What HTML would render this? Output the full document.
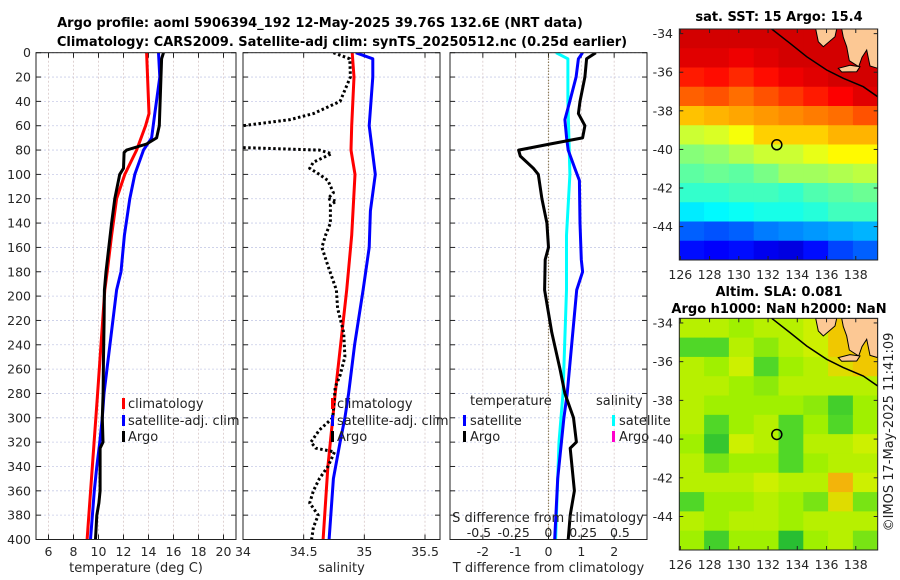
<!DOCTYPE html>
<html><head><meta charset="utf-8"><style>
html,body{margin:0;padding:0;background:#fff}
svg{display:block;font-family:"DejaVu Sans","Liberation Sans",sans-serif}
</style></head><body>
<svg id="fig" width="900" height="580" viewBox="0 0 900 580" xmlns="http://www.w3.org/2000/svg">
<text x="320" y="27" text-anchor="middle" font-size="13" font-weight="bold">Argo profile: aoml 5906394_192 12-May-2025 39.76S 132.6E (NRT data)</text>
<text x="342" y="46" text-anchor="middle" font-size="13" font-weight="bold">Climatology: CARS2009. Satellite-adj clim: synTS_20250512.nc (0.25d earlier)</text>
<text x="779" y="21" text-anchor="middle" font-size="13" font-weight="bold">sat. SST: 15 Argo: 15.4</text>
<text x="779" y="296" text-anchor="middle" font-size="13" font-weight="bold">Altim. SLA: 0.081</text>
<text x="779" y="313" text-anchor="middle" font-size="13" font-weight="bold">Argo h1000: NaN h2000: NaN</text>
<text transform="translate(893,432) rotate(-90)" text-anchor="middle" font-size="13" fill="#222">©IMOS 17-May-2025 11:41:09</text>
<g id="root"></g>
</svg>
<script>
// ---------- profile data (depth in m) ----------
const tClimDepth=[0,50,60,80,100,120,150,180,195,280,400];
const tClimVal=[13.85,14.04,13.77,13.05,12.1,11.45,11.05,10.7,10.5,9.93,9.09];
const tSatDepth=[0,20,50,70,80,100,120,150,180,195,280,300,320,340,360,400];
const tSatVal=[14.8,14.9,14.5,14.25,13.6,12.9,12.5,12.07,11.8,11.45,10.44,10.3,10.1,9.86,9.66,9.36];
const tArgoDepth=[0,5,60,70,75,80,82,95,100,120,140,180,195,220,250,280,300,320,325,340,360,370,380,400];
const tArgoVal=[15.2,15.05,14.86,14.65,13.85,12.25,12.05,12.0,11.7,11.3,11.05,10.6,10.47,10.45,10.4,10.37,10.3,10.36,10.13,10.13,10.13,10.03,9.86,9.76];
const sClimDepth=[0,20,60,80,100,150,195,280,300,340,400];
const sClimVal=[34.90,34.915,34.896,34.89,34.923,34.896,34.855,34.76,34.74,34.70,34.66];
const sSatDepth=[0,5,20,60,100,130,160,195,240,280,300,320,350,400];
const sSatVal=[34.93,35.07,35.07,35.04,35.09,35.05,35.04,34.99,34.92,34.87,34.84,34.80,34.745,34.71];
const sArgoDepth=[0,5,20,40,50,55,60,62,76,78,80,83,90,95,100,105,115,120,122,125,140,150,160,175,195,210,230,250,265,275,300,310,320,325,328,340,350,360,370,380,390,400];
const sArgoVal=[34.745,34.88,34.885,34.80,34.58,34.39,34.0,33.9,33.9,34.0,34.63,34.73,34.58,34.55,34.63,34.70,34.745,34.70,34.77,34.72,34.72,34.68,34.65,34.70,34.77,34.78,34.83,34.84,34.80,34.76,34.74,34.63,34.56,34.60,34.755,34.70,34.63,34.58,34.55,34.62,34.58,34.565];
const dTArgoDepth=[0,5,20,40,50,60,70,75,80,85,95,100,120,140,160,170,195,230,260,280,300,320,325,360,380,400];
const dTArgoVal=[1.44,1.16,1.11,0.96,0.91,1.11,1.04,0.05,-0.91,-0.86,-0.46,-0.31,-0.2,-0.05,0,-0.1,-0.12,0.1,0.35,0.5,0.76,0.85,0.66,0.79,0.66,0.6];
const dTSatDepth=[0,5,20,40,55,70,80,95,105,140,170,180,195,280,300,350,400];
const dTSatVal=[1.04,0.91,0.84,0.65,0.5,0.55,0.6,0.8,0.94,0.96,1.0,1.04,0.86,0.57,0.47,0.28,0.19];
const dSSatDepth=[0,5,40,100,150,195,280,320,400];
const dSSatVal=[0.055,0.14,0.14,0.155,0.13,0.13,0.105,0.076,0.052];
const depthTicks=[0,20,40,60,80,100,120,140,160,180,200,220,240,260,280,300,320,340,360,380,400];
const tTicks=[6,8,10,12,14,16,18,20];
const sTicks=[34,34.5,35,35.5];
const sTickLabels=["34","34.5","35","35.5"];
const dTTicks=[-2,-1,0,1,2];
const dSTicks=[-0.5,-0.25,0,0.25,0.5];
const dSTickLabels=["-0.5","-0.25","0","0.25","0.5"];
// ---------- map data: 12 rows (lat -34 .. -45.7) x 8 cols (lon 126 .. 139.5) ----------
const sstGrid=[
[17.7,17.7,17.7,17.7,17.7,17.7,17.7,17.7],
[17.6,17.6,17.5,17.6,17.7,17.7,17.7,17.7],
[17.2,17.3,17.1,17.3,17.5,17.6,17.7,17.7],
[16.7,16.8,16.6,16.8,17.0,17.2,17.4,17.6],
[16.0,16.1,16.2,16.3,16.4,16.5,16.6,16.8],
[15.2,15.3,15.5,15.9,15.9,15.9,16.1,16.1],
[14.7,14.8,15.0,15.2,15.2,15.4,15.6,15.6],
[14.4,14.5,14.4,14.6,14.9,14.9,15.0,15.1],
[14.1,14.1,14.2,14.2,14.1,14.3,14.4,14.5],
[13.6,13.7,13.8,13.9,13.9,14.0,14.2,14.2],
[12.6,12.5,12.6,12.8,12.9,13.0,13.1,13.2],
[12.0,11.9,12.0,11.8,11.7,12.0,12.4,12.6]];
const slaGrid=[
[0.05,0.05,0.04,0.05,0.05,0.06,0.08,0.08],
[0.0,0.0,0.05,0.03,0.05,0.06,0.08,0.08],
[0.05,0.04,0.06,0.0,0.04,0.05,0.07,0.08],
[0.05,0.05,0.04,0.03,0.05,0.05,0.05,0.05],
[0.05,0.04,0.04,0.04,0.04,0.03,-0.01,0.04],
[0.05,0.0,0.04,0.05,0.0,0.04,0.0,0.04],
[0.04,-0.02,0.06,0.05,0.0,0.05,0.05,0.06],
[0.05,0.02,0.04,0.04,0.0,0.04,0.05,0.05],
[0.05,0.05,0.05,0.06,0.05,0.05,0.09,0.06],
[0.0,0.04,0.04,0.05,0.04,0.02,0.07,0.02],
[0.05,0.04,0.05,0.05,0.04,0.05,0.05,0.05],
[0.04,-0.01,0.04,0.04,-0.03,0.04,0.05,0.02]];
const lonTicks=[126,128,130,132,134,136,138];
const latTicks=[-34,-36,-38,-40,-42,-44];
const argoLon=132.6, argoLat=-39.76;

const NS="http://www.w3.org/2000/svg";
const root=document.getElementById('root');
function mk(tag,attrs,parent){const e=document.createElementNS(NS,tag);for(const k in attrs)e.setAttribute(k,attrs[k]);(parent||root).appendChild(e);return e;}
const Y0=52.7,Y1=539.5;
const yD=d=>Y0+(d/400)*(Y1-Y0);
function lin(d0,d1,r0,r1){return v=>r0+(v-d0)/(d1-d0)*(r1-r0);}
const xT=lin(5,21,36,236);
const xS=lin(34,35.5,243,425);
const xdT=lin(-3,3,450,647);
const xdS=v=>548.4+v*139;

function panel(name,x0,x1,xTicksV,xf,labels,xlabel){
  const g=mk('g',{});
  
  
  const cp=mk('clipPath',{id:'clip-'+name},g);
  mk('rect',{x:x0,y:Y0,width:x1-x0,height:Y1-Y0},cp);
  depthTicks.forEach(d=>{const l=mk('line',{x1:x0,x2:x1,y1:yD(d),y2:yD(d),stroke:'#c8cce8','stroke-width':0.8,'stroke-dasharray':'2,2'},g);
    
    mk('line',{x1:x0,x2:x0+5,y1:yD(d),y2:yD(d),stroke:'#222'},g);mk('line',{x1:x1-5,x2:x1,y1:yD(d),y2:yD(d),stroke:'#222'},g);});
  xTicksV.forEach((v,i)=>{const x=xf(v);
    const l=mk('line',{x1:x,x2:x,y1:Y0,y2:Y1,stroke:'#d8c8c8','stroke-width':0.8,'stroke-dasharray':'2,2'},g);
    
    mk('line',{x1:x,x2:x,y1:Y1-5,y2:Y1,stroke:'#222'},g);mk('line',{x1:x,x2:x,y1:Y0,y2:Y0+5,stroke:'#222'},g);
    const t=mk('text',{x:x,y:556,'text-anchor':'middle','font-size':12.5,fill:'#262626'},g);t.textContent=labels?labels[i]:String(v);
    });
  const xl=mk('text',{x:(x0+x1)/2,y:572,'text-anchor':'middle','font-size':13,fill:'#262626'},g);xl.textContent=xlabel;
  
  return g;
}
function frame(g,x0,x1){mk('rect',{x:x0,y:Y0,width:x1-x0,height:Y1-Y0,fill:'none',stroke:'#222','stroke-width':1},g);}
function line(g,name,clip,depths,vals,xf,color,dash){
  const pts=depths.map((d,i)=>xf(vals[i]).toFixed(1)+','+yD(d).toFixed(1)).join(' ');
  const p=mk('polyline',{points:pts,fill:'none',stroke:color,'stroke-width':3,'stroke-linejoin':'round','clip-path':'url(#clip-'+clip+')'},g);
  if(dash)p.setAttribute('stroke-dasharray',dash);
  
}
function txt(g,x,y,s,name,opt){const t=mk('text',Object.assign({x:x,y:y,'font-size':13,fill:'#222'},opt||{}),g);t.textContent=s;return t;}
function mark(g,x,y,c,name){const r=mk('rect',{x:x,y:y-6,width:3,height:11,fill:c},g);}

depthTicks.forEach(d=>{txt(root,31,yD(d)+4.5,String(d),'depth-tick-label',{'text-anchor':'end','font-size':12.5,fill:'#262626'});});

const g1=panel('temperature-panel',36,236,tTicks,xT,null,'temperature (deg C)');
line(g1,'temp-climatology-line','temperature-panel',tClimDepth,tClimVal,xT,'#ff0000');
line(g1,'temp-satellite-line','temperature-panel',tSatDepth,tSatVal,xT,'#0000ff');
line(g1,'temp-argo-line','temperature-panel',tArgoDepth,tArgoVal,xT,'#000');
frame(g1,36,236);
mark(g1,122,404,'#f00','legend-climatology-marker');txt(g1,128,408,'climatology','legend-climatology');
mark(g1,122,421,'#00f','legend-satellite-marker');txt(g1,128,425,'satellite-adj. clim','legend-satellite');
mark(g1,122,437,'#000','legend-argo-marker');txt(g1,128,441,'Argo','legend-argo');

const g2=panel('salinity-panel',243,440,sTicks,xS,sTickLabels,'salinity');
line(g2,'sal-climatology-line','salinity-panel',sClimDepth,sClimVal,xS,'#ff0000');
line(g2,'sal-satellite-line','salinity-panel',sSatDepth,sSatVal,xS,'#0000ff');
line(g2,'sal-argo-line','salinity-panel',sArgoDepth,sArgoVal,xS,'#000','2.5,2.5');
frame(g2,243,440);
mark(g2,331,404,'#f00','legend-climatology-marker');txt(g2,337,408,'climatology','legend-climatology');
mark(g2,331,421,'#00f','legend-satellite-marker');txt(g2,337,425,'satellite-adj. clim','legend-satellite');
mark(g2,331,437,'#000','legend-argo-marker');txt(g2,337,441,'Argo','legend-argo');

const g3=panel('difference-panel',450,647,dTTicks,xdT,null,'T difference from climatology');
const z=mk('line',{x1:xdT(0),x2:xdT(0),y1:Y0,y2:Y1,stroke:'#6b5a2a','stroke-width':1.2,'stroke-dasharray':'1,2'},g3);

line(g3,'dS-satellite-line','difference-panel',dSSatDepth,dSSatVal,xdS,'#00ffff');
line(g3,'dT-satellite-line','difference-panel',dTSatDepth,dTSatVal,xdT,'#0000ff');
line(g3,'dT-argo-line','difference-panel',dTArgoDepth,dTArgoVal,xdT,'#000');
frame(g3,450,647);
txt(g3,470,405,'temperature','legend-temperature-heading');
mark(g3,463,421,'#00f','legend-t-satellite-marker');txt(g3,470,425,'satellite','legend-t-satellite');
mark(g3,463,437,'#000','legend-t-argo-marker');txt(g3,470,441,'Argo','legend-t-argo');
txt(g3,596,405,'salinity','legend-salinity-heading');
mark(g3,612,421,'#0ff','legend-s-satellite-marker');txt(g3,619,425,'satellite','legend-s-satellite');
mark(g3,612,437,'#f0c','legend-s-argo-marker');txt(g3,619,441,'Argo','legend-s-argo');
txt(g3,548,522,'S difference from climatology','s-axis-title',{'text-anchor':'middle'});
dSTicks.forEach((v,i)=>txt(g3,xdS(v)+(i==4?2:0),537,dSTickLabels[i],'s-tick-label',{'text-anchor':'middle','font-size':12.5}));

// ---------- maps ----------
const MX0=679.3,MX1=877.7,LON0=125.93,LON1=139.5,LAT0=-33.76,LAT1=-45.73;
function jet(t){t=Math.max(0,Math.min(1,t));const c=v=>Math.round(255*Math.max(0,Math.min(1,v)));
  return 'rgb('+c(1.5-Math.abs(4*t-3))+','+c(1.5-Math.abs(4*t-2))+','+c(1.5-Math.abs(4*t-1))+')';}
const slaStops=[[-0.03,[40,190,50]],[0.0,[80,215,40]],[0.04,[160,240,0]],[0.06,[205,240,0]],[0.08,[240,200,0]],[0.1,[245,160,20]]];
function slaColor(v){
  if(v<=slaStops[0][0])return 'rgb('+slaStops[0][1].join(',')+')';
  for(let i=1;i<slaStops.length;i++){if(v<=slaStops[i][0]){const a=slaStops[i-1],b=slaStops[i],f=(v-a[0])/(b[0]-a[0]);
    return 'rgb('+a[1].map((c,k)=>Math.round(c+(b[1][k]-c)*f)).join(',')+')';}}
  return 'rgb('+slaStops[slaStops.length-1][1].join(',')+')';}
const landA=[[497,87],[560,87],[555,110],[520,140],[505,125]];
const landB=[[575,87],[683,87],[683,205],[660,198],[650,150],[636,172],[626,200],[598,182],[590,140],[580,112]];
const landK=[[565,205],[600,196],[630,200],[620,215],[575,216]];
const coast=[[365,87],[420,130],[470,170],[530,210],[580,235],[640,260],[683,290]];
function drawMap(name,MY0,MY1,grid,colorOf,landColor,labelY){
  const g=mk('g',{});
  const cp=mk('clipPath',{id:'clip-'+name},g);mk('rect',{x:MX0,y:MY0,width:MX1-MX0,height:MY1-MY0},cp);
  const gx=lin(LON0,LON1,MX0,MX1), gy=lin(LAT0,LAT1,MY0,MY1);
  const gc=mk('g',{'clip-path':'url(#clip-'+name+')'},g);
  const nr=grid.length,nc=grid[0].length,cw=(MX1-MX0)/nc,ch=(MY1-MY0)/nr;
  grid.forEach((row,r)=>row.forEach((v,c)=>{const e=mk('rect',{x:MX0+c*cw,y:MY0+r*ch,width:cw+0.6,height:ch+0.6,fill:colorOf(v)},gc);
    }));
  const P=pts=>pts.map(p=>(p[0]/3+650).toFixed(1)+','+(p[1]/3-29+MY0).toFixed(1)).join(' ');
  [landA,landB,landK].forEach(l=>{const e=mk('polygon',{points:P(l),fill:landColor,stroke:'#000','stroke-width':1},gc);});
  const cl=mk('polyline',{points:P(coast),fill:'none',stroke:'#000','stroke-width':1.5},gc);
  const ac=mk('circle',{cx:gx(argoLon),cy:gy(argoLat),r:5,fill:'none',stroke:'#000','stroke-width':1.5},g);
  mk('rect',{x:MX0,y:MY0,width:MX1-MX0,height:MY1-MY0,fill:'none',stroke:'#222'},g);
  lonTicks.forEach(v=>{mk('line',{x1:gx(v),x2:gx(v),y1:MY1,y2:MY1-4,stroke:'#222'},g);mk('line',{x1:gx(v),x2:gx(v),y1:MY0,y2:MY0+4,stroke:'#222'},g);
    txt(g,gx(v),labelY,String(v),'lon-tick-label',{'text-anchor':'middle','font-size':12.5,fill:'#262626'});});
  latTicks.forEach(v=>{mk('line',{x1:MX0,x2:MX0+4,y1:gy(v),y2:gy(v),stroke:'#222'},g);mk('line',{x1:MX1-4,x2:MX1,y1:gy(v),y2:gy(v),stroke:'#222'},g);
    txt(g,673,gy(v)+4.5,String(v),'lat-tick-label',{'text-anchor':'end','font-size':12.5,fill:'#262626'});});
}
drawMap('sst-map',29,260,sstGrid,v=>jet((v-11)/7.3),'#fcc894',279);
drawMap('sla-map',318.3,550,slaGrid,slaColor,'#fcc894',569);
</script>
</body></html>
